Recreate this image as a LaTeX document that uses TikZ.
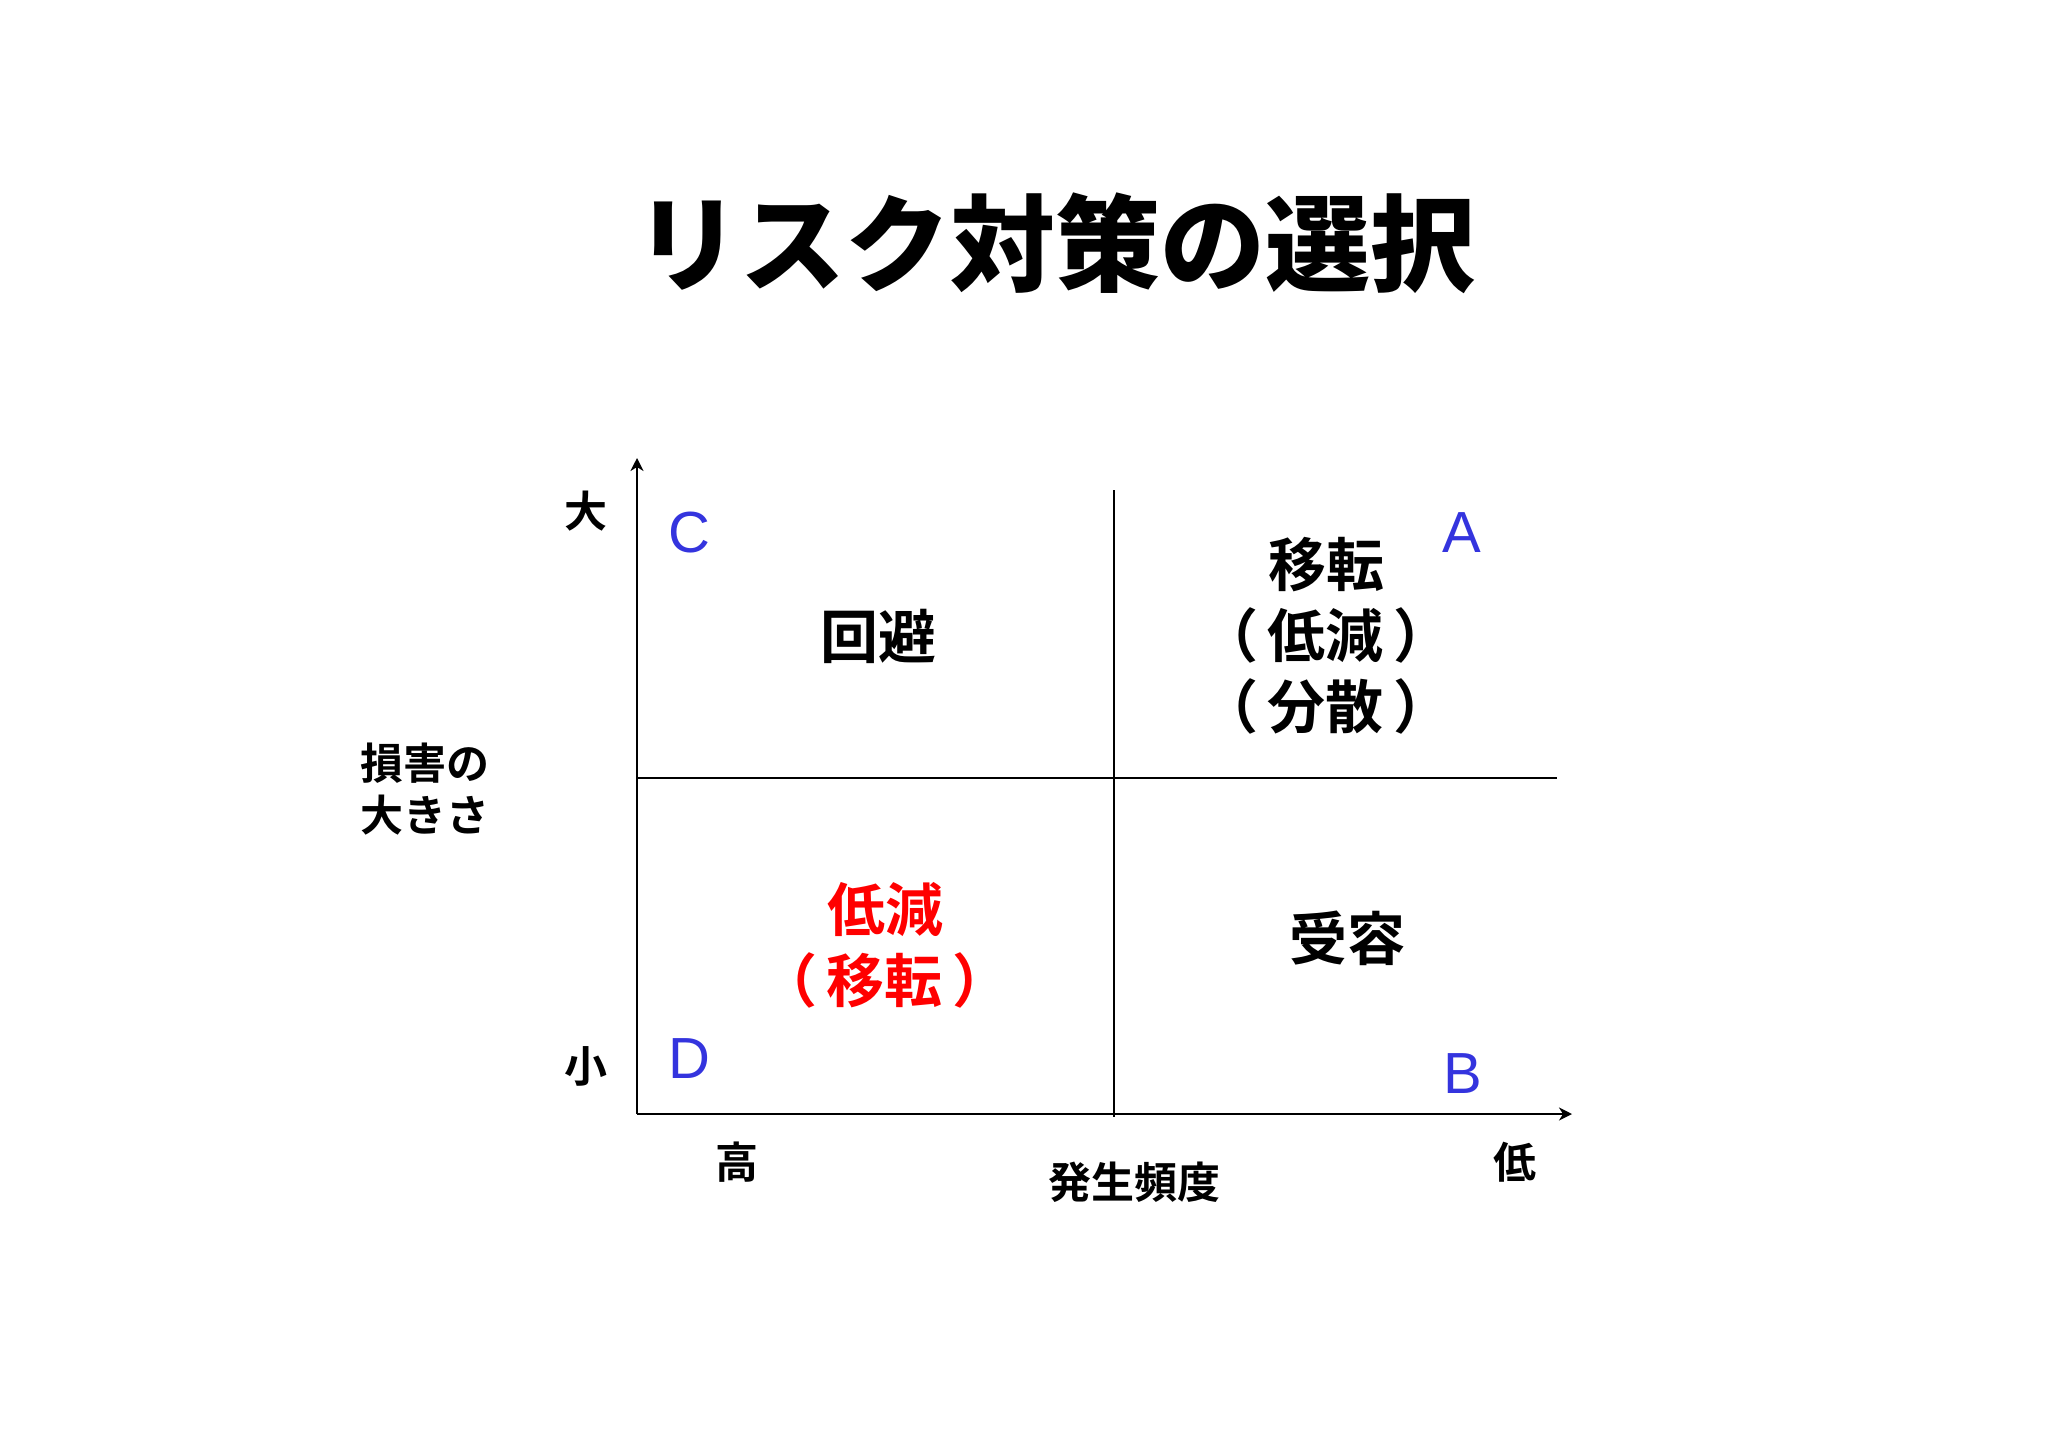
\documentclass[tikz,border=0pt]{standalone}
\usepackage{fontspec}
\newfontfamily\jp{Noto Sans CJK JP}[BoldFont={Noto Sans CJK JP Bold},Kerning=Off]
\newfontfamily\jpblack{Noto Sans CJK JP Black}[Kerning=Off]
\newfontfamily\lat{Liberation Sans}
\usetikzlibrary{arrows.meta}
\definecolor{letterblue}{RGB}{52,52,222}
\definecolor{quadred}{RGB}{255,0,0}
\newcommand{\pgap}{\hspace{10pt}}
\tikzset{
  axisline/.style={line width=2pt,-{Stealth[length=13pt,width=13pt,inset=4pt]}},
  gridline/.style={line width=2pt},
  titletext/.style={font=\jpblack\fontsize{105}{120}\selectfont},
  quadtext/.style={font=\jp\bfseries\fontsize{58}{71}\selectfont,align=center,inner sep=0pt},
  axistext/.style={font=\jp\bfseries\fontsize{43}{52}\selectfont,align=left,inner sep=0pt},
  letter/.style={font=\lat\fontsize{58}{60}\selectfont,text=letterblue,inner sep=0pt},
}
\begin{document}
\begin{tikzpicture}[x=1pt,y=-1pt]
\useasboundingbox (0,0) rectangle (2048,1448);
% axes and grid
\coordinate (O) at (637,1114);
\coordinate (Ytop) at (637,458);
\coordinate (Xend) at (1572,1114);
\coordinate (Mtop) at (1114,490);
\coordinate (Mbot) at (1114,1117);
\coordinate (Hl) at (637,778);
\coordinate (Hr) at (1557,778);
\draw[axisline] (O) -- (Ytop);
\draw[axisline] (O) -- (Xend);
\draw[gridline] (Mtop) -- (Mbot);
\draw[gridline] (Hl) -- (Hr);
% title
\node[titletext] (title) at (1055,243) {リスク対策の選択};
% quadrant texts
\node[quadtext] (avoid) at (878,636) {回避};
\node[quadtext] (transfer) at (1326,636) {移転\\（\pgap 低減\pgap ）\\（\pgap 分散\pgap ）};
\node[quadtext,text=quadred] (reduce) at (885,945) {低減\\（\pgap 移転\pgap ）};
\node[quadtext] (accept) at (1347,938) {受容};
% letters
\node[letter] (lC) at (689,533) {C};
\node[letter] (lA) at (1462,533) {A};
\node[letter] (lD) at (689,1059) {D};
\node[letter] (lB) at (1463,1074) {B};
% axis labels
\node[axistext] (big) at (586,511) {大};
\node[axistext] (small) at (586,1066) {小};
\node[axistext,anchor=west] (damage) at (360,789) {損害の\\大きさ};
\node[axistext] (high) at (737,1162) {高};
\node[axistext] (low) at (1515,1162) {低};
\node[axistext] (freq) at (1134,1182) {発生頻度};
\end{tikzpicture}
\end{document}
